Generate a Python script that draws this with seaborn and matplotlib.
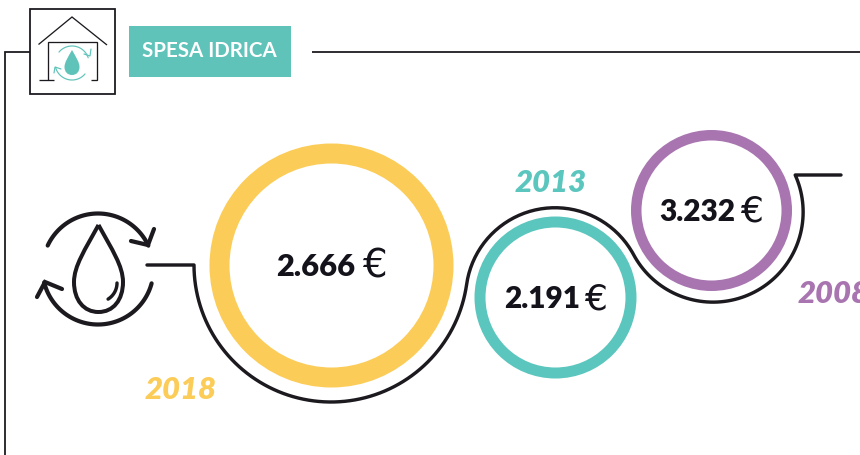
import numpy as np
import pandas as pd
import matplotlib
matplotlib.use("Agg")
import matplotlib.pyplot as plt
from matplotlib.patches import Rectangle, PathPatch
from matplotlib.path import Path
import seaborn as sns

title = "SPESA IDRICA"
years = ["2018", "2013", "2008"]
amounts = ["2.666", "2.191", "3.232"]
colors = ["#FCCC58", "#5BC6BE", "#A875B0"]

# layout in pixels of the 860x455 picture
ring_x = [331, 555, 711]
ring_y = [265, 297, 210]
ring_outer = [122, 81, 80.5]
ring_width = [20, 11, 10.5]
year_x = [180.5, 550.5, 798]
year_y = [390, 183, 294]
year_ha = ["center", "center", "left"]
amount_x = [316, 542, 697.5]
euro_x = [374.5, 595.5, 752]
amount_size = [22.2, 21.4, 21.4]
euro_size = [28, 26, 26]

dark = "#1d1a1f"
teal = "#60C3BA"

sns.set_theme(style="white")
plt.rcParams["font.family"] = ["Lato", "DejaVu Sans"]

fig, ax = plt.subplots(figsize=(8.6, 4.55), dpi=100)
fig.subplots_adjust(0, 0, 1, 1)
ax.set_xlim(0, 860)
ax.set_ylim(455, 0)
ax.axis("off")
px = 0.72


def arc(cx, cy, r, a0, a1, n=80):
    t = np.radians(np.linspace(a0, a1, n))
    return cx + r * np.cos(t), cy + r * np.sin(t)


def line(xs, ys, color=dark, lw=2.0, cap="round"):
    ax.plot(xs, ys, color=color, lw=lw * px, solid_capstyle=cap, solid_joinstyle="miter")


def drop_path(tx, ty, w, yw, yb):
    # tip, widest point, bottom: built from three cubic pieces per side
    xl, xr, xm = tx - w, tx + w, tx
    h = yw - ty
    verts = [(xm, ty), (xm - w * .55, ty + h * .43), (xl, ty + h * .72), (xl, yw),
             (xl, yb - (yb - yw) * .4), (xm - w * .6, yb), (xm, yb),
             (xm + w * .6, yb), (xr, yb - (yb - yw) * .4), (xr, yw),
             (xr, ty + h * .72), (xm + w * .55, ty + h * .43), (xm, ty)]
    return Path(verts, [1] + [4] * 12)


# rings
df = pd.DataFrame({"x": ring_x, "y": ring_y, "year": years})
for i in range(3):
    d = 2 * (ring_outer[i] - ring_width[i] / 2) * px
    sns.scatterplot(data=df.iloc[[i]], x="x", y="y", s=d * d, color="white",
                    edgecolor=colors[i], linewidth=ring_width[i] * px, ax=ax,
                    legend=False, zorder=3)
ax.set_xlim(0, 860)
ax.set_ylim(455, 0)

# connector running under the rings, three arcs that touch
cx = [331, 555, 713]
cy = [265, 297, 212]
r1 = 137
r2 = np.hypot(cx[1] - cx[0], cy[1] - cy[0]) - r1
r3 = np.hypot(cx[2] - cx[1], cy[2] - cy[1]) - r2
a12 = np.degrees(np.arctan2(cy[1] - cy[0], cx[1] - cx[0]))
a23 = np.degrees(np.arctan2(cy[2] - cy[1], cx[2] - cx[1]))
a_end = np.degrees(np.arcsin((175 - cy[2]) / r3))
x1, y1 = arc(cx[0], cy[0], r1, 180, a12)
x2, y2 = arc(cx[1], cy[1], r2, a12 + 180, a23 + 360)
x3, y3 = arc(cx[2], cy[2], r3, a23 + 180, a_end)
path_x = np.concatenate([[147], x1, x2[1:], x3[1:], [841]])
path_y = np.concatenate([[265], y1, y2[1:], y3[1:], [175]])
path_df = pd.DataFrame({"px": path_x, "py": path_y})
sns.lineplot(data=path_df, x="px", y="py", sort=False, estimator=None, color=dark,
             lw=3.4 * px, ax=ax, zorder=2)
ax.set_xlabel("")
ax.set_ylabel("")

# header frame
line([5, 5, 30], [455, 52, 52], lw=1.8, cap="butt")
line([312, 860], [52, 52], lw=1.8, cap="butt")
ax.add_patch(Rectangle((30, 9), 85, 85, fc="white", ec=dark, lw=1.8 * px, zorder=2))
ax.add_patch(Rectangle((129, 26), 162, 51, fc=teal, ec="none"))
ax.text(209.5, 51, title, color="white", fontsize=14.8, fontweight="bold",
        ha="center", va="center")

# little house icon
line([38.5, 72, 107], [44.5, 17, 45], lw=1.3, cap="butt")
line([48, 48, 97, 97, 91], [80, 41.5, 41.5, 80, 80], lw=1.3, cap="butt")
line([39, 54], [80, 80], lw=1.3, cap="butt")
x, y = arc(72, 63, 17, -140, -18)
line(x, y, color=teal, lw=1.2)
line([84, 90, 91], [54, 56, 49], color=teal, lw=1.2)
x, y = arc(72, 63, 17, 40, 165)
line(x, y, color=teal, lw=1.2)
line([54, 55, 61], [73, 67, 69], color=teal, lw=1.2)
ax.add_patch(PathPatch(drop_path(72, 50, 7.5, 67, 75), fc=teal, ec="none", zorder=4))

# big drop icon
ax.add_patch(PathPatch(drop_path(98.5, 225, 24.5, 282, 312), fc="white", ec=dark,
                       lw=4 * px, joinstyle="miter", zorder=4))
x, y = arc(98, 283, 19, 0, 58)
ax.plot(x, y, color=dark, lw=3.4 * px, solid_capstyle="round", zorder=5)
x, y = arc(98, 269, 55.5, -155, -25)
line(x, y, lw=4.2)
line([154, 148, 131], [229, 245, 241], lw=4.2)
x, y = arc(98, 269, 55.5, 15, 166)
line(x, y, lw=4.2)
line([37, 45, 62], [297, 282, 289], lw=4.2)

# labels
for i in range(3):
    ax.text(year_x[i], year_y[i], years[i], color=colors[i], fontsize=22.4,
            fontweight=800, fontstyle="italic", ha=year_ha[i], va="center",
            clip_on=True)
    ax.text(amount_x[i], ring_y[i] + 2, amounts[i], color="#14121a", fontsize=amount_size[i],
            fontweight=800, ha="center", va="center", zorder=5)
    ax.text(euro_x[i], ring_y[i] + 2, "€", color="#14121a", fontsize=euro_size[i],
            family="DejaVu Sans", ha="center", va="center", zorder=5)

fig.savefig("out.png", dpi=100)
